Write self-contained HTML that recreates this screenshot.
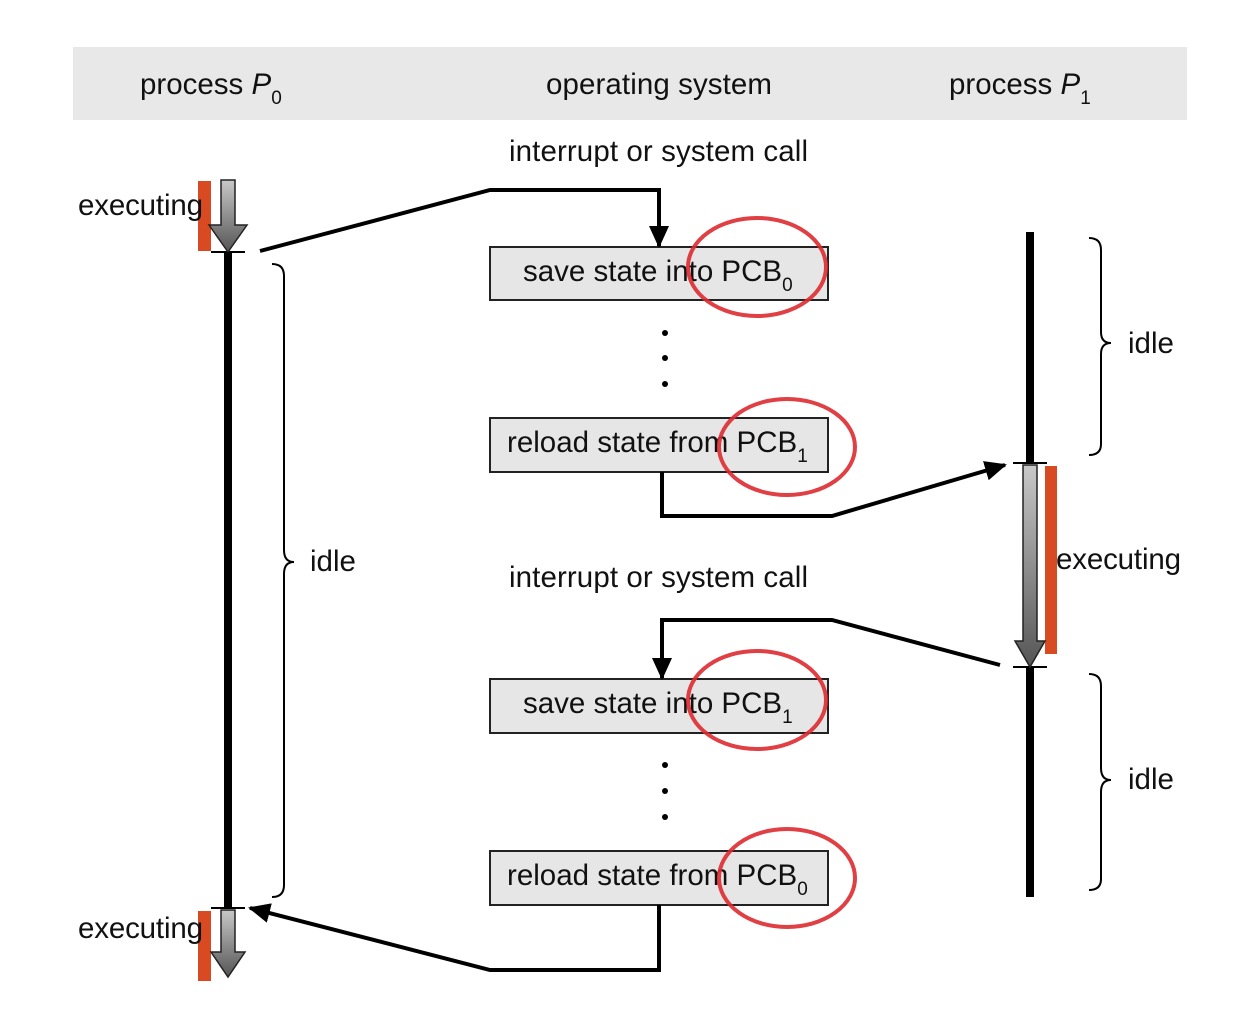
<!DOCTYPE html>
<html><head><style>body{margin:0;background:#fff}svg{display:block}text{font-family:"Liberation Sans",sans-serif;fill:#111}</style></head><body>
<svg width="1256" height="1020" viewBox="0 0 1256 1020" xmlns="http://www.w3.org/2000/svg">
<defs>
<linearGradient id="g" x1="0" y1="0" x2="0" y2="1"><stop offset="0" stop-color="#c8c8c8"/><stop offset="1" stop-color="#555"/></linearGradient>
<marker id="ah" markerWidth="22" markerHeight="20" refX="20" refY="10" orient="auto" markerUnits="userSpaceOnUse" viewBox="0 0 22 20"><path d="M0,0 L22,10 L0,20z" fill="#000"/></marker>
</defs>
<rect x="73" y="47" width="1114" height="73" fill="#e8e8e8"/>
<text x="140" y="94" font-size="29.5">process <tspan font-style="italic">P</tspan><tspan font-size="19" dy="10">0</tspan></text>
<text x="546" y="94" font-size="29.5" textLength="226">operating system</text>
<text x="949" y="94" font-size="29.5">process <tspan font-style="italic">P</tspan><tspan font-size="19" dy="10">1</tspan></text>
<text x="509" y="161" font-size="29.5" textLength="299">interrupt or system call</text>
<text x="509" y="587" font-size="29.5" textLength="299">interrupt or system call</text>
<!-- red streaks -->
<rect x="198" y="181" width="13" height="70" fill="#d84a22"/>
<rect x="198" y="911" width="13" height="70" fill="#d84a22"/>
<rect x="1045" y="466" width="12" height="188" fill="#d84a22"/>
<text x="78" y="215" font-size="29.5" textLength="125">executing</text>
<text x="78" y="938" font-size="29.5" textLength="125">executing</text>
<text x="1056" y="569" font-size="29.5" textLength="125">executing</text>
<text x="310" y="571" font-size="29.5">idle</text>
<text x="1128" y="353" font-size="29.5">idle</text>
<text x="1128" y="789" font-size="29.5">idle</text>
<!-- left timeline -->
<rect x="224" y="252" width="8" height="656" fill="#000"/>
<line x1="211" y1="252" x2="245" y2="252" stroke="#000" stroke-width="2"/>
<line x1="211" y1="908" x2="245" y2="908" stroke="#000" stroke-width="2"/>
<path d="M221,180 H235 V225 H247 L228,252 L209,225 H221z" fill="url(#g)" stroke="#222" stroke-width="1.5"/>
<path d="M221,910 H235 V952 H245 L228,977 L211,952 H221z" fill="url(#g)" stroke="#222" stroke-width="1.5"/>
<!-- right timeline -->
<rect x="1026" y="232" width="8" height="231" fill="#000"/>
<rect x="1026" y="667" width="8" height="230" fill="#000"/>
<line x1="1013" y1="463" x2="1047" y2="463" stroke="#000" stroke-width="2"/>
<line x1="1013" y1="667" x2="1047" y2="667" stroke="#000" stroke-width="2"/>
<path d="M1023,465 H1037 V641 H1045 L1030,667 L1015,641 H1023z" fill="url(#g)" stroke="#222" stroke-width="1.5"/>
<!-- braces -->
<g fill="none" stroke="#000" stroke-width="2">
<path d="M272,264 Q284,264 284,276 V550 Q284,562 294,562 Q284,562 284,574 V885 Q284,897 272,897"/>
<path d="M1089,238 Q1101,238 1101,250 V332 Q1101,343 1111,343 Q1101,343 1101,354 V444 Q1101,455 1089,455"/>
<path d="M1089,674 Q1101,674 1101,686 V768 Q1101,780 1111,780 Q1101,780 1101,792 V879 Q1101,890 1089,890"/>
</g>
<!-- boxes -->
<g fill="#e6e6e6" stroke="#222" stroke-width="2">
<rect x="490" y="247" width="338" height="53"/>
<rect x="490" y="418" width="338" height="54"/>
<rect x="490" y="679" width="338" height="54"/>
<rect x="490" y="851" width="338" height="54"/>
</g>
<text x="523" y="281" font-size="29.5">save state into PCB<tspan font-size="19" dy="10">0</tspan></text>
<text x="507" y="452" font-size="29.5">reload state from PCB<tspan font-size="19" dy="10">1</tspan></text>
<text x="523" y="713" font-size="29.5">save state into PCB<tspan font-size="19" dy="10">1</tspan></text>
<text x="507" y="885" font-size="29.5">reload state from PCB<tspan font-size="19" dy="10">0</tspan></text>
<g fill="#000"><circle cx="665" cy="333" r="3"/><circle cx="665" cy="358" r="3"/><circle cx="665" cy="384" r="3"/><circle cx="665" cy="765" r="3"/><circle cx="665" cy="791" r="3"/><circle cx="665" cy="817" r="3"/></g>
<!-- connectors -->
<g fill="none" stroke="#000" stroke-width="4">
<path d="M260,251 L490,190 H659 V246" marker-end="url(#ah)"/>
<path d="M662,472 V516 H832 L1005,465" marker-end="url(#ah)"/>
<path d="M1000,665 L832,620 H662 V678" marker-end="url(#ah)"/>
<path d="M659,905 V970 H490 L250,908" marker-end="url(#ah)"/>
</g>
<!-- red circles -->
<g fill="none" stroke="#dd2a30" stroke-width="4" opacity="0.9">
<ellipse cx="757" cy="267" rx="69" ry="49"/>
<ellipse cx="787" cy="447" rx="68" ry="48"/>
<ellipse cx="757" cy="700" rx="69" ry="49"/>
<ellipse cx="787" cy="878" rx="68" ry="49"/>
</g>
</svg>
</body></html>
